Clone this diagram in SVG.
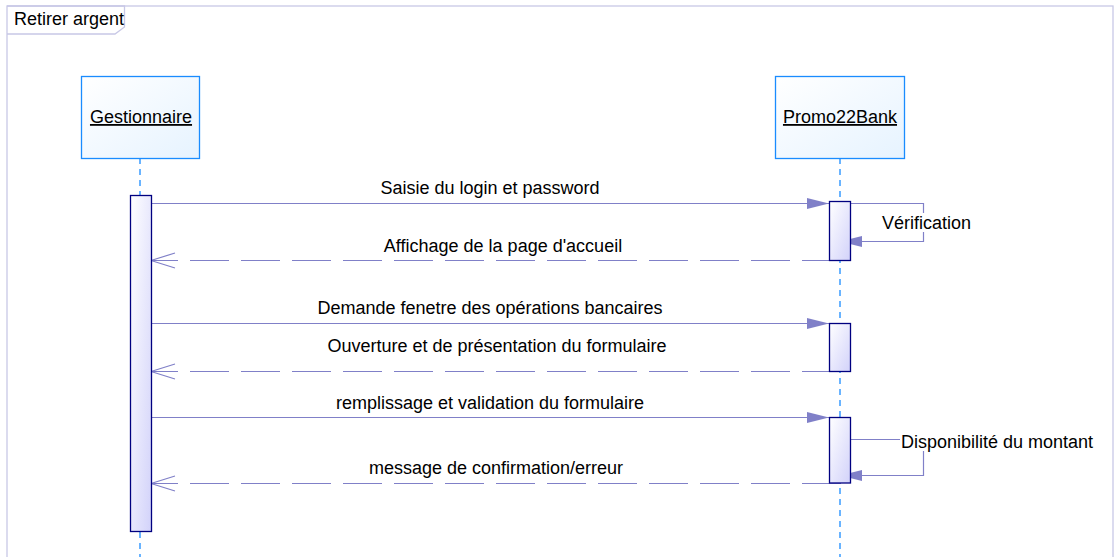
<svg xmlns="http://www.w3.org/2000/svg" width="1120" height="557" viewBox="0 0 1120 557">
<defs>
<linearGradient id="nodeFill" x1="0" y1="0" x2="1" y2="1">
<stop offset="0" stop-color="#ffffff"/><stop offset="1" stop-color="#e6f3ff"/>
</linearGradient>
<linearGradient id="actFill" x1="0" y1="0" x2="1" y2="1">
<stop offset="0" stop-color="#ffffff"/><stop offset="1" stop-color="#d2d2fa"/>
</linearGradient>
<marker id="filled" markerWidth="22" markerHeight="12" refX="22" refY="6" orient="auto" markerUnits="userSpaceOnUse">
<path d="M0,0.5 L22,6 L0,11.5 Z" fill="#8080c8"/>
</marker>
<marker id="open" markerWidth="26" markerHeight="18" refX="25" refY="9" orient="auto" markerUnits="userSpaceOnUse">
<path d="M1,1.5 L25,9 L1,16.5" fill="none" stroke="#8080c8" stroke-width="1.2"/>
</marker>
</defs>
<style>
text{font-family:"Liberation Sans",Arial,sans-serif;font-size:18px;fill:#000}
.node{fill:url(#nodeFill);stroke:#1a8cff;stroke-width:1.3}
.life{stroke:#1a8cff;stroke-width:1.3;stroke-dasharray:6 5;fill:none}
.act{fill:url(#actFill);stroke:#000080;stroke-width:1.3}
.msg{stroke:#8080c8;stroke-width:1.2;fill:none}
.ret{stroke:#8080c8;stroke-width:1.2;fill:none;stroke-dasharray:39 12}
.lbl{text-anchor:middle}
.bg{fill:#ffffff}
</style>
<rect width="1120" height="557" fill="#ffffff"/>
<g id="frame">
<rect x="7" y="6" width="1106" height="560" fill="none" stroke="#c8c8e6" stroke-width="1.3"/>
<path d="M7,6 L124.5,6 L124.5,27 L115,34 L7,34" fill="none" stroke="#c8c8e6" stroke-width="1.3"/>
<text x="14" y="25">Retirer argent</text>
</g>
<g id="lifelines">
<line class="life" x1="140" y1="158" x2="140" y2="557"/>
<line class="life" x1="840" y1="158" x2="840" y2="557"/>
</g>
<g id="Gestionnaire">
<rect class="node" x="81.5" y="76.5" width="118" height="82"/>
<text x="141" y="123" class="lbl" text-decoration="underline">Gestionnaire</text>
</g>
<g id="Promo22Bank">
<rect class="node" x="775.5" y="76.5" width="129" height="82"/>
<text x="840" y="123" class="lbl" text-decoration="underline">Promo22Bank</text>
</g>
<g id="connectors">
<line class="msg" x1="151" y1="203.5" x2="829" y2="203.5" marker-end="url(#filled)"/>
<path class="msg" d="M850,203.5 H923.5 V241.5 H840" marker-end="url(#filled)"/>
<line class="ret" x1="841" y1="260.5" x2="151" y2="260.5" marker-end="url(#open)"/>
<line class="msg" x1="151" y1="323.5" x2="829" y2="323.5" marker-end="url(#filled)"/>
<line class="ret" x1="841" y1="371.5" x2="151" y2="371.5" marker-end="url(#open)"/>
<line class="msg" x1="151" y1="417.5" x2="829" y2="417.5" marker-end="url(#filled)"/>
<path class="msg" d="M850,439.5 H923.5 V475.5 H840" marker-end="url(#filled)"/>
<line class="ret" x1="841" y1="483.5" x2="151" y2="483.5" marker-end="url(#open)"/>
</g>
<g id="activations">
<rect class="act" x="130.5" y="195.5" width="21" height="336"/>
<rect class="act" x="829.5" y="201.5" width="21" height="59"/>
<rect class="act" x="829.5" y="323.5" width="21" height="48"/>
<rect class="act" x="829.5" y="417.5" width="21" height="65.5"/>
</g>
<g id="labels">
<text x="490" y="194" class="lbl">Saisie du login et password</text>
<rect class="bg" x="881" y="213" width="91" height="19"/>
<text x="882" y="229">Vérification</text>
<text x="503" y="252" class="lbl">Affichage de la page d'accueil</text>
<text x="490" y="314" class="lbl">Demande fenetre des opérations bancaires</text>
<text x="497" y="352" class="lbl">Ouverture et de présentation du formulaire</text>
<text x="490" y="409" class="lbl">remplissage et validation du formulaire</text>
<rect class="bg" x="900" y="429" width="198" height="22"/>
<text x="901" y="448">Disponibilité du montant</text>
<text x="496" y="474" class="lbl">message de confirmation/erreur</text>
</g>
</svg>
